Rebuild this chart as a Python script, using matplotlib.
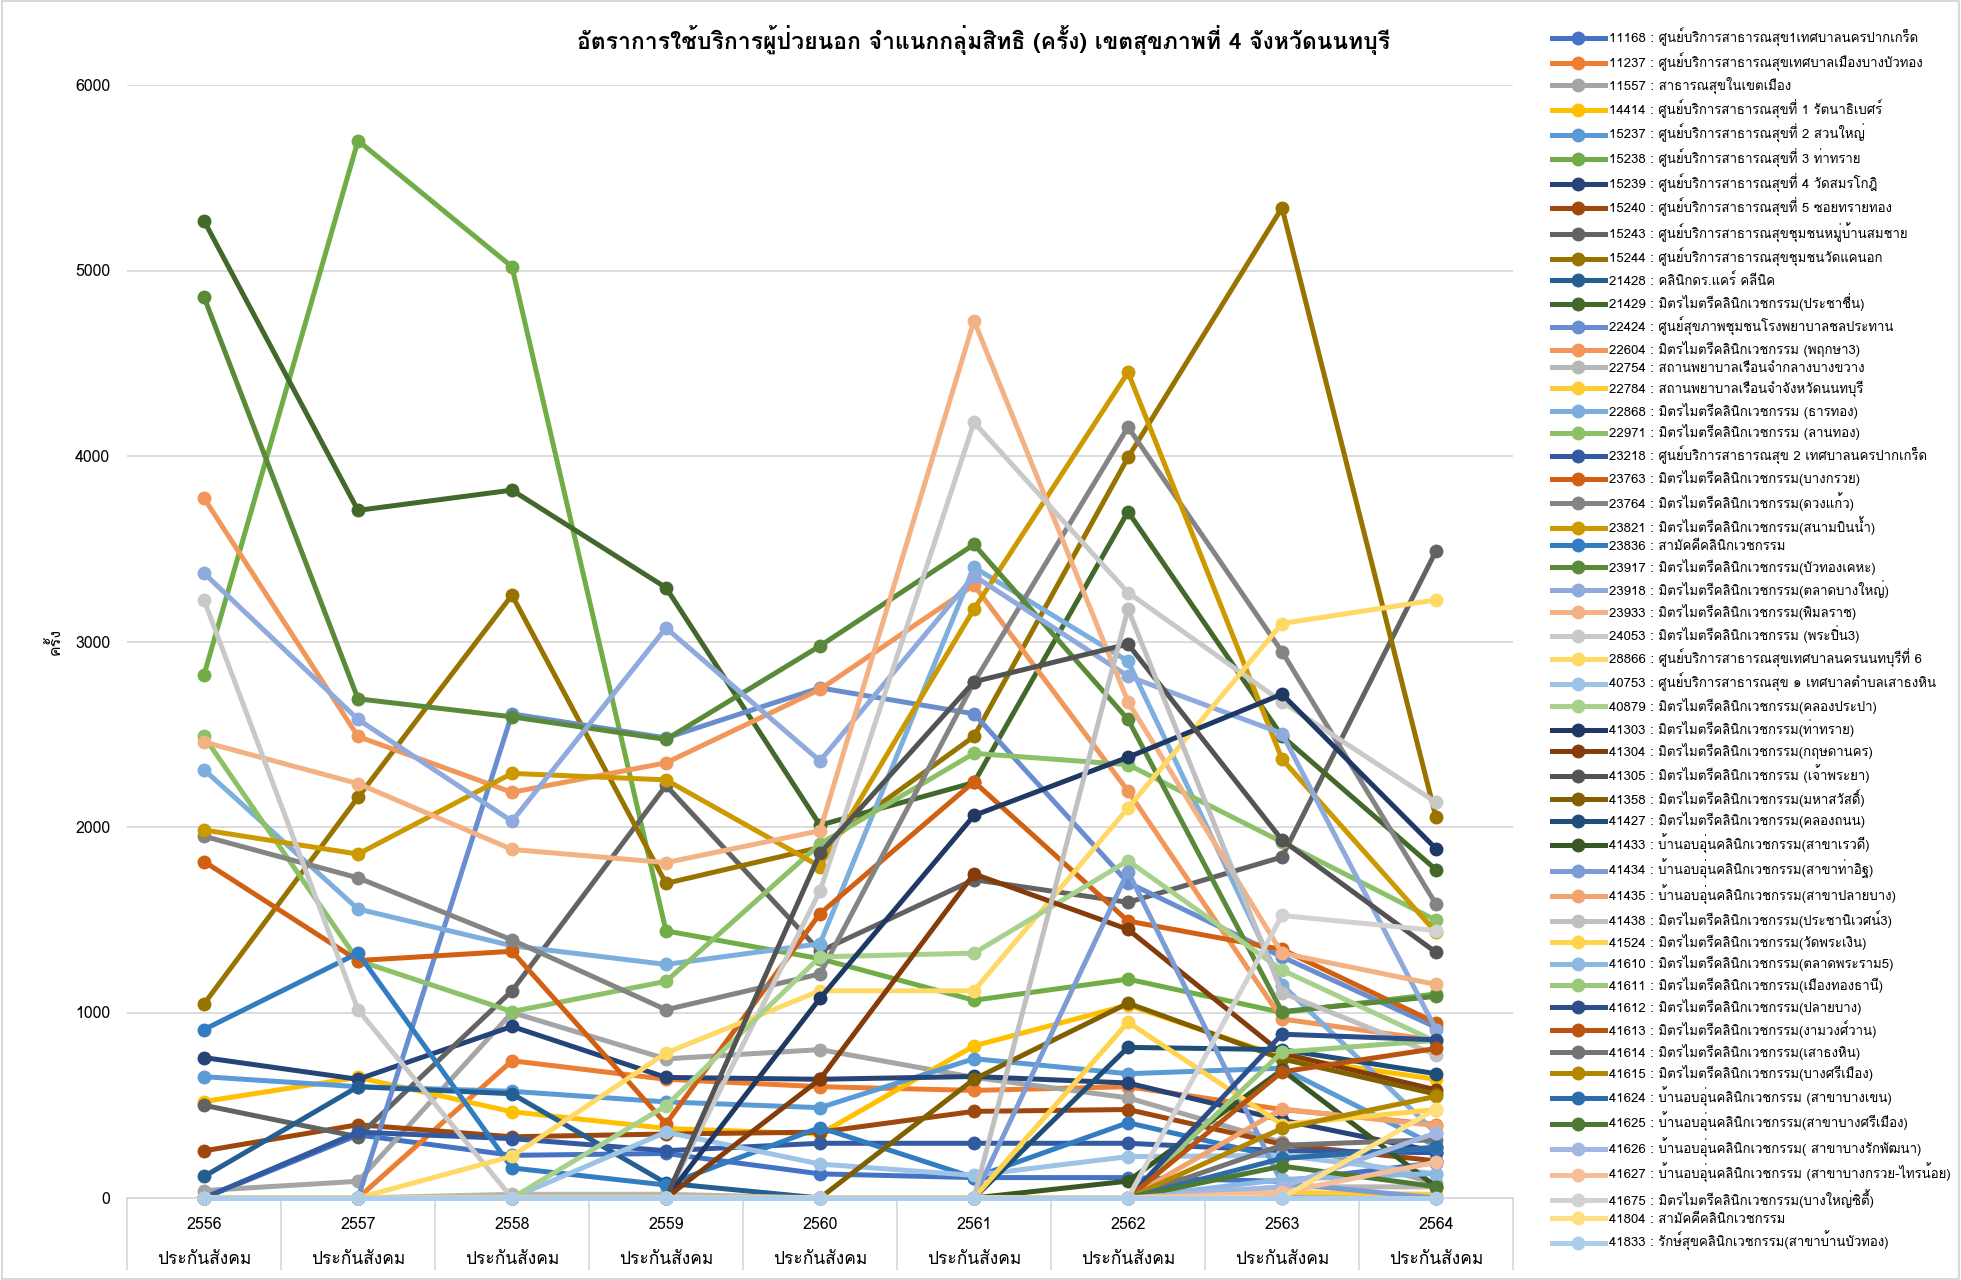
import colorsys

import matplotlib
matplotlib.use('Agg')
import matplotlib.pyplot as plt
from matplotlib import font_manager
from matplotlib.ft2font import FT2Font
from matplotlib.colors import to_rgb
from matplotlib.patches import Rectangle

# ---- data -------------------------------------------------------------
years = ['2556', '2557', '2558', '2559', '2560', '2561', '2562', '2563', '2564']
fund = 'ประกันสังคม'
title = 'อัตราการใช้บริการผู้ป่วยนอก จำแนกกลุ่มสิทธิ (ครั้ง) เขตสุขภาพที่ 4 จังหวัดนนทบุรี'
y_label = 'ครั้ง'
y_ticks = [0, 1000, 2000, 3000, 4000, 5000, 6000]

codes = ['11168', '11237', '11557', '14414', '15237', '15238', '15239', '15240',
         '15243', '15244', '21428', '21429', '22424', '22604', '22754', '22784',
         '22868', '22971', '23218', '23763', '23764', '23821', '23836', '23917',
         '23918', '23933', '24053', '28866', '40753', '40879', '41303', '41304',
         '41305', '41358', '41427', '41433', '41434', '41435', '41438', '41524',
         '41610', '41611', '41612', '41613', '41614', '41615', '41624', '41625',
         '41626', '41627', '41675', '41804', '41833']

names = [
    'ศูนย์บริการสาธารณสุข1เทศบาลนครปากเกร็ด',
    'ศูนย์บริการสาธารณสุขเทศบาลเมืองบางบัวทอง',
    'สาธารณสุขในเขตเมือง',
    'ศูนย์บริการสาธารณสุขที่ 1 รัตนาธิเบศร์',
    'ศูนย์บริการสาธารณสุขที่ 2 สวนใหญ่',
    'ศูนย์บริการสาธารณสุขที่ 3 ท่าทราย',
    'ศูนย์บริการสาธารณสุขที่ 4 วัดสมรโกฎิ',
    'ศูนย์บริการสาธารณสุขที่ 5 ซอยทรายทอง',
    'ศูนย์บริการสาธารณสุขชุมชนหมู่บ้านสมชาย',
    'ศูนย์บริการสาธารณสุขชุมชนวัดแคนอก',
    'คลินิกดร.แคร์ คลีนิค',
    'มิตรไมตรีคลินิกเวชกรรม(ประชาชื่น)',
    'ศูนย์สุขภาพชุมชนโรงพยาบาลชลประทาน',
    'มิตรไมตรีคลินิกเวชกรรม (พฤกษา3)',
    'สถานพยาบาลเรือนจำกลางบางขวาง',
    'สถานพยาบาลเรือนจำจังหวัดนนทบุรี',
    'มิตรไมตรีคลินิกเวชกรรม (ธารทอง)',
    'มิตรไมตรีคลินิกเวชกรรม (ลานทอง)',
    'ศูนย์บริการสาธารณสุข 2 เทศบาลนครปากเกร็ด',
    'มิตรไมตรีคลินิกเวชกรรม(บางกรวย)',
    'มิตรไมตรีคลินิกเวชกรรม(ดวงแก้ว)',
    'มิตรไมตรีคลินิกเวชกรรม(สนามบินน้ำ)',
    'สามัคคีคลินิกเวชกรรม',
    'มิตรไมตรีคลินิกเวชกรรม(บัวทองเคหะ)',
    'มิตรไมตรีคลินิกเวชกรรม(ตลาดบางใหญ่)',
    'มิตรไมตรีคลินิกเวชกรรม(พิมลราช)',
    'มิตรไมตรีคลินิกเวชกรรม (พระปิ่น3)',
    'ศูนย์บริการสาธารณสุขเทศบาลนครนนทบุรีที่ 6',
    'ศูนย์บริการสาธารณสุข ๑ เทศบาลตำบลเสาธงหิน',
    'มิตรไมตรีคลินิกเวชกรรม(คลองประปา)',
    'มิตรไมตรีคลินิกเวชกรรม(ท่าทราย)',
    'มิตรไมตรีคลินิกเวชกรรม(กฤษดานคร)',
    'มิตรไมตรีคลินิกเวชกรรม (เจ้าพระยา)',
    'มิตรไมตรีคลินิกเวชกรรม(มหาสวัสดิ์)',
    'มิตรไมตรีคลินิกเวชกรรม(คลองถนน)',
    'บ้านอบอุ่นคลินิกเวชกรรม(สาขาเรวดี)',
    'บ้านอบอุ่นคลินิกเวชกรรม(สาขาท่าอิฐ)',
    'บ้านอบอุ่นคลินิกเวชกรรม(สาขาปลายบาง)',
    'มิตรไมตรีคลินิกเวชกรรม(ประชานิเวศน์3)',
    'มิตรไมตรีคลินิกเวชกรรม(วัดพระเงิน)',
    'มิตรไมตรีคลินิกเวชกรรม(ตลาดพระราม5)',
    'มิตรไมตรีคลินิกเวชกรรม(เมืองทองธานี)',
    'มิตรไมตรีคลินิกเวชกรรม(ปลายบาง)',
    'มิตรไมตรีคลินิกเวชกรรม(งามวงศ์วาน)',
    'มิตรไมตรีคลินิกเวชกรรม(เสาธงหิน)',
    'มิตรไมตรีคลินิกเวชกรรม(บางศรีเมือง)',
    'บ้านอบอุ่นคลินิกเวชกรรม (สาขาบางเขน)',
    'บ้านอบอุ่นคลินิกเวชกรรม(สาขาบางศรีเมือง)',
    'บ้านอบอุ่นคลินิกเวชกรรม( สาขาบางรักพัฒนา)',
    'บ้านอบอุ่นคลินิกเวชกรรม (สาขาบางกรวย-ไทรน้อย)',
    'มิตรไมตรีคลินิกเวชกรรม(บางใหญ่ซิตี้)',
    'สามัคคีคลินิกเวชกรรม',
    'รักษ์สุขคลินิกเวชกรรม(สาขาบ้านบัวทอง)',
]

# one row per clinic, one value per year (2556 .. 2564)
counts = [
    [0, 340, 230, 240, 130, 110, 110, 90, 190],          # 11168
    [0, 0, 740, 640, 600, 580, 600, 477, 396],           # 11237
    [40, 90, 1000, 750, 800, 650, 540, 300, 80],         # 11557
    [520, 650, 465, 375, 345, 820, 1040, 760, 640],      # 14414
    [654, 600, 575, 518, 487, 751, 670, 700, 280],       # 15237
    [2820, 5700, 5020, 1440, 1290, 1066, 1180, 1000, 1100],  # 15238
    [757, 640, 925, 650, 640, 655, 620, 420, 250],       # 15239
    [254, 395, 330, 345, 355, 467, 477, 290, 200],       # 15240
    [500, 330, 1117, 2224, 1330, 1716, 1594, 1838, 3488],    # 15243
    [1046, 2160, 3250, 1696, 1890, 2488, 3992, 5338, 2052],  # 15244
    [116, 600, 562, 80, 0, 0, 0, 0, 0],                  # 21428
    [5268, 3707, 3816, 3290, 2010, 2240, 3700, 2490, 1770],  # 21429
    [0, 0, 2610, 2480, 2750, 2610, 1700, 1300, 920],     # 22424
    [3773, 2488, 2187, 2346, 2742, 3304, 2194, 965, 850],    # 22604
    [0, 0, 20, 20, 0, 0, 0, 60, 60],                     # 22754
    [0, 0, 0, 0, 0, 0, 0, 30, 20],                       # 22784
    [2309, 1558, 1360, 1259, 1371, 3400, 2894, 1150, 350],   # 22868
    [2488, 1280, 1005, 1168, 1909, 2397, 2336, 1919, 1497],  # 22971
    [0, 355, 320, 255, 295, 295, 295, 255, 244],         # 23218
    [1814, 1280, 1330, 400, 1533, 2244, 1493, 1340, 944],    # 23763
    [1950, 1726, 1391, 1015, 1208, 2780, 4156, 2945, 1584],  # 23764
    [1984, 1854, 2289, 2254, 1787, 3175, 4451, 2366, 1432],  # 23821
    [908, 1320, 162, 70, 380, 110, 406, 215, 270],       # 23836
    [4857, 2691, 2594, 2472, 2976, 3523, 2580, 1005, 1087],  # 23917
    [3368, 2580, 2031, 3073, 2356, 3354, 2813, 2504, 908],   # 23918
    [2458, 2234, 1879, 1808, 1980, 4730, 2675, 1320, 1151],  # 23933
    [3224, 1015, 0, 0, 1655, 4181, 3264, 2675, 2133],    # 24053
    [0, 0, 225, 782, 1117, 1117, 2102, 3097, 3224],      # 28866
    [0, 0, 0, 355, 183, 122, 223, 230, 130],             # 40753
    [0, 0, 0, 497, 1300, 1320, 1818, 1229, 843],         # 40879
    [0, 0, 0, 0, 1076, 2062, 2376, 2716, 1883],          # 41303
    [0, 0, 0, 0, 640, 1747, 1448, 780, 583],             # 41304
    [0, 0, 0, 0, 1858, 2783, 2986, 1930, 1324],          # 41305
    [0, 0, 0, 0, 0, 640, 1050, 750, 560],                # 41358
    [0, 0, 0, 0, 0, 0, 812, 800, 670],                   # 41427
    [0, 0, 0, 0, 0, 0, 91, 690, 61],                     # 41433
    [0, 0, 0, 0, 0, 0, 1760, 80, 0],                     # 41434
    [0, 0, 0, 0, 0, 0, 0, 480, 390],                     # 41435
    [0, 0, 0, 0, 0, 0, 3175, 1107, 772],                 # 41438
    [0, 0, 0, 0, 0, 0, 948, 396, 477],                   # 41524
    [0, 0, 0, 0, 0, 0, 0, 100, 132],                     # 41610
    [0, 0, 0, 0, 0, 0, 0, 786, 850],                     # 41611
    [0, 0, 0, 0, 0, 0, 0, 883, 853],                     # 41612
    [0, 0, 0, 0, 0, 0, 0, 680, 806],                     # 41613
    [0, 0, 0, 0, 0, 0, 0, 284, 315],                     # 41614
    [0, 0, 0, 0, 0, 0, 0, 375, 548],                     # 41615
    [0, 0, 0, 0, 0, 0, 0, 213, 274],                     # 41624
    [0, 0, 0, 0, 0, 0, 0, 172, 61],                      # 41625
    [0, 0, 0, 0, 0, 0, 0, 60, 351],                      # 41626
    [0, 0, 0, 0, 0, 0, 0, 30, 193],                      # 41627
    [0, 0, 0, 0, 0, 0, 0, 1523, 1442],                   # 41675
    [0, 0, 0, 0, 0, 0, 0, 0, 480],                       # 41804
    [0, 0, 0, 0, 0, 0, 0, 0, 0],                         # 41833
]

# ---- style ------------------------------------------------------------
accents = ['#4472C4', '#ED7D31', '#A5A5A5', '#FFC000', '#5B9BD5', '#70AD47']
# office theme variations used for series 7, 13, 19, ... (lumMod, lumOff)
shades = [(1.0, 0.0), (0.6, 0.0), (0.8, 0.2), (0.8, 0.0), (0.6, 0.4),
          (0.5, 0.0), (0.7, 0.3), (0.7, 0.0), (0.5, 0.5)]


def series_color(i):
    mod, off = shades[i // 6]
    h, l, s = colorsys.rgb_to_hls(*to_rgb(accents[i % 6]))
    return colorsys.hls_to_rgb(h, min(1.0, l * mod + off), s)


def thai_font():
    for f in font_manager.fontManager.ttflist:
        try:
            if 0x0E01 in FT2Font(f.fname).get_charmap():
                return f.name
        except Exception:
            continue
    return None


thai = thai_font()
plt.rcParams['font.family'] = [thai, 'DejaVu Sans'] if thai else ['DejaVu Sans']

W, H = 1961, 1280
fig = plt.figure(figsize=(W / 100, H / 100), dpi=100)
fig.patches.append(Rectangle((0.001, 0.001), 0.998, 0.998, transform=fig.transFigure,
                             fill=False, edgecolor='#D9D9D9', linewidth=1.5))

ax = fig.add_axes([127 / W, 1 - 1198 / H, (1513 - 127) / W, (1198 - 85) / H])

x = list(range(len(years)))
for i, row in enumerate(counts):
    ax.plot(x, row, color=series_color(i), linewidth=3.6, marker='o',
            markersize=10, markeredgewidth=0, solid_joinstyle='round',
            label=f'{codes[i]} : {names[i]}', clip_on=False, zorder=2 + i * 0.01)

ax.set_xlim(-0.5, len(years) - 0.5)
ax.set_ylim(0, 6000)
ax.set_yticks(y_ticks)
ax.yaxis.grid(True, color='#D9D9D9', linewidth=1.3)
ax.set_axisbelow(True)
for side in ['top', 'right', 'left']:
    ax.spines[side].set_visible(False)
ax.spines['bottom'].set_color('#D9D9D9')
ax.spines['bottom'].set_linewidth(1.3)

# two level category axis: year, then the insurance group below it
ax.set_xticks(x)
ax.set_xticklabels(years, fontsize=11.5)
ax.set_xticks([v - 0.5 for v in range(len(years) + 1)], minor=True)
ax.tick_params(axis='x', which='major', length=0, pad=14)
ax.tick_params(axis='x', which='minor', length=52, color='#D9D9D9', width=1.3)
ax.tick_params(axis='y', length=0, pad=12, labelsize=11.5)

group_axis = ax.secondary_xaxis('bottom')
group_axis.set_xticks(x)
group_axis.set_xticklabels([fund] * len(years), fontsize=12.5)
group_axis.tick_params(length=0, pad=39)
group_axis.spines['bottom'].set_visible(False)

ax.set_ylabel(y_label, fontsize=11.5, labelpad=8)
fig.text(984 / W, 1 - 40 / H, title, ha='center', va='center',
         fontsize=16.5, fontweight='bold')

fig.legend(loc='upper left', bbox_to_anchor=(1552 / W, 1 - 28 / H),
           frameon=False, fontsize=9.5, handlelength=4.0, handletextpad=0.3,
           labelspacing=0.42, borderaxespad=0, borderpad=0)

fig.savefig('out.png', dpi=100)
